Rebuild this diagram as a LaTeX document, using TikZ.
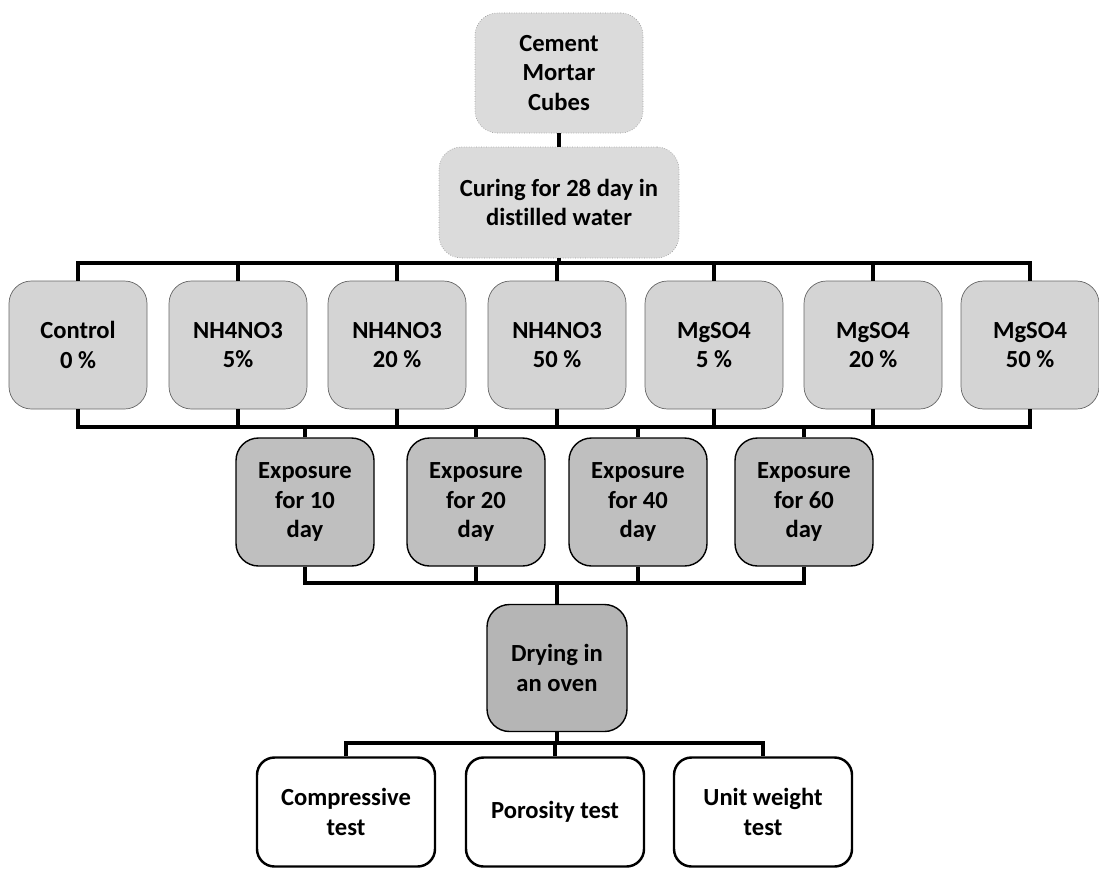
\documentclass[tikz,border=0pt]{standalone}
\usepackage{fontspec}
\setmainfont{Carlito}[Ligatures=NoCommon]
\begin{document}
\begin{tikzpicture}

\def\wid{2.76cm}
\def\hgt{2.56cm}
\def\rowm{-6.9}
\def\rowe{-10.04}
\def\rowt{-16.24}
\def\lw{2pt}

\tikzset{box/.style = {rounded corners=0.45cm, align=center, inner sep=2pt,
                       font=\fontsize{14}{17}\selectfont\bfseries},
         lightbox/.style = {box, draw=gray!75, densely dotted, fill=gray!28},
         midbox/.style = {box, draw=gray!80!black, fill=gray!34, minimum width=\wid, minimum height=\hgt},
         expbox/.style = {box, draw=black, line width=0.8pt, fill=gray!50, minimum width=\wid, minimum height=\hgt},
         testbox/.style = {box, draw=black, line width=1.4pt, fill=white, rounded corners=0.35cm,
                           minimum width=3.56cm, minimum height=2.18cm},
         link/.style = {draw, line width=\lw}}

\useasboundingbox (0,0) rectangle (21.98,-17.38);

% top
\path node[lightbox, minimum width=3.36cm, minimum height=2.4cm] (T1) at (11.18,-1.46) {Cement\\Mortar\\Cubes};
\path node[lightbox, minimum width=4.8cm, minimum height=2.22cm] (T2) at (11.18,-4.05) {Curing for 28 day in\\distilled water};

% solutions
\path node[midbox] (M1) at (1.56,\rowm) {Control\\0 \%};
\path node[midbox] (M2) at (4.76,\rowm) {NH4NO3\\5\%};
\path node[midbox] (M3) at (7.94,\rowm) {NH4NO3\\20 \%};
\path node[midbox] (M4) at (11.14,\rowm) {NH4NO3\\50 \%};
\path node[midbox] (M5) at (14.28,\rowm) {MgSO4\\5 \%};
\path node[midbox] (M6) at (17.46,\rowm) {MgSO4\\20 \%};
\path node[midbox] (M7) at (20.60,\rowm) {MgSO4\\50 \%};

% exposure
\path node[expbox] (E1) at (6.10,\rowe) {Exposure\\for 10\\day};
\path node[expbox] (E2) at (9.52,\rowe) {Exposure\\for 20\\day};
\path node[expbox] (E3) at (12.76,\rowe) {Exposure\\for 40\\day};
\path node[expbox] (E4) at (16.08,\rowe) {Exposure\\for 60\\day};

% drying
\path node[expbox, fill=gray!58, minimum width=2.8cm, minimum height=2.54cm] (D1) at (11.14,-13.36) {Drying in\\an oven};

% tests
\path node[testbox] (R1) at (6.92,\rowt) {Compressive\\test};
\path node[testbox] (R2) at (11.10,\rowt) {Porosity test};
\path node[testbox] (R3) at (15.26,\rowt) {Unit weight\\test};

% bars
\coordinate (B1) at (11.18,-5.26);
\coordinate (B2) at (11.14,-8.54);
\coordinate (B3) at (11.14,-11.66);
\coordinate (B4) at (11.14,-14.86);

\draw[link] (T1) -- (T2);
\draw[link] (T2) -- (B1);
\draw[link] (M1.north) |- (B1);
\draw[link] (M2.north) |- (B1);
\draw[link] (M3.north) |- (B1);
\draw[link] (M4.north) |- (B1);
\draw[link] (M5.north) |- (B1);
\draw[link] (M6.north) |- (B1);
\draw[link] (M7.north) |- (B1);

\draw[link] (M1.south) |- (B2);
\draw[link] (M2.south) |- (B2);
\draw[link] (M3.south) |- (B2);
\draw[link] (M4.south) |- (B2);
\draw[link] (M5.south) |- (B2);
\draw[link] (M6.south) |- (B2);
\draw[link] (M7.south) |- (B2);
\draw[link] (E1.north) |- (B2);
\draw[link] (E2.north) |- (B2);
\draw[link] (E3.north) |- (B2);
\draw[link] (E4.north) |- (B2);

\draw[link] (E1.south) |- (B3);
\draw[link] (E2.south) |- (B3);
\draw[link] (E3.south) |- (B3);
\draw[link] (E4.south) |- (B3);
\draw[link] (B3) -- (D1);

\draw[link] (D1) -- (B4);
\draw[link] (R1.north) |- (B4);
\draw[link] (R2.north) |- (B4);
\draw[link] (R3.north) |- (B4);

\end{tikzpicture}
\end{document}
